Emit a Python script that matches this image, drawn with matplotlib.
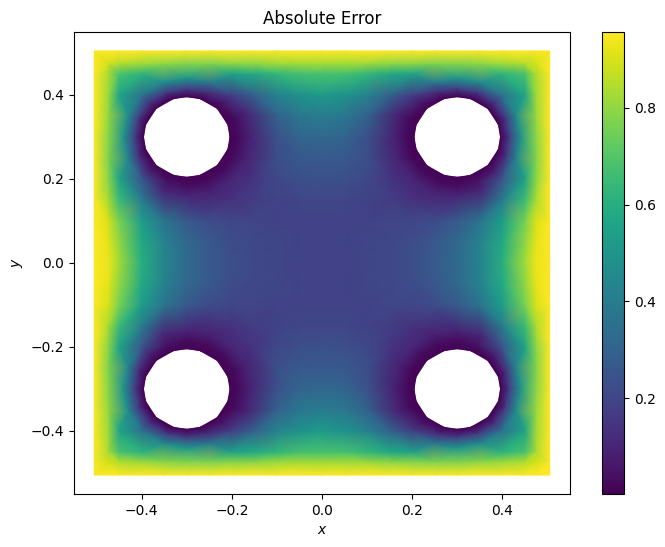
import numpy as np
import matplotlib
matplotlib.use("Agg")
import matplotlib.pyplot as plt
import matplotlib.tri as mtri

x_levels = [0, .05, .1, .15, .2, .25, .3, .35, .4, .45, .475, .505]
y_levels = [0, .05, .1, .15, .2, .25, .3, .35, .4, .45, .475, .505]
n = np.nan
error_rows = [
    [.19, .19, .20, .21, .23, .27, .33, .43, .60, .82, .93, .955],
    [.19, .19, .20, .21, .22, .26, .32, .42, .58, .80, .92, .955],
    [.19, .19, .19, .20, .20, .22, .27, .37, .53, .76, .90, .955],
    [.20, .20, .19, .17, .14, n, n, n, .40, .65, .84, .955],
    [.24, .23, .21, .15, n, n, n, n, n, .56, .79, .955],
    [.27, .26, .23, n, n, n, n, n, n, n, .78, .955],
    [.32, .31, .24, n, n, n, n, n, n, n, .79, .955],
    [.40, .38, .30, n, n, n, n, n, n, n, .81, .955],
    [.52, .49, .42, .30, n, n, n, n, n, .56, .82, .955],
    [.68, .67, .63, .58, .55, n, n, n, .62, .68, .84, .955],
    [.83, .83, .82, .80, .79, .78, .78, .80, .82, .85, .89, .955],
    [.955, .955, .955, .955, .955, .955, .955, .955, .955, .955, .955, .955],
]
hole_center = 0.3
edge_radius = 0.096
edge_value = 0.01
edge_count = 40
ring_radii = [0.115, 0.14]
ring_inner = [.17, .16, .14, .16, .17, .12, .06, .03, .03, .03, .03, .03, .03, .05, .08, .13]
ring_outer = [.48, .46, .36, .46, .50, .38, .17, .09, .09, .09, .10, .09, .10, .11, .25, .42]
title = "Absolute Error"
color_range = (0.002, 0.957)
cbar_ticks = [0.2, 0.4, 0.6, 0.8]

xq, yq = np.meshgrid(x_levels, y_levels)
eq = np.array(error_rows)
keep = ~np.isnan(eq)
xq, yq, eq = xq[keep], yq[keep], eq[keep]
ang = np.linspace(0, 2 * np.pi, 16, endpoint=False)
for r, vals in zip(ring_radii, (ring_inner, ring_outer)):
    xq = np.r_[xq, hole_center + r * np.cos(ang)]
    yq = np.r_[yq, hole_center + r * np.sin(ang)]
    eq = np.r_[eq, vals]
ang_e = np.linspace(0, 2 * np.pi, edge_count, endpoint=False)
xq = np.r_[xq, hole_center + edge_radius * np.cos(ang_e)]
yq = np.r_[yq, hole_center + edge_radius * np.sin(ang_e)]
eq = np.r_[eq, np.full(edge_count, edge_value)]

pts = {}
for sx in (1, -1):
    for sy in (1, -1):
        for a, b, c in zip(sx * xq, sy * yq, eq):
            pts[(round(float(a), 6) + 0.0, round(float(b), 6) + 0.0)] = c
xy = np.array(list(pts.keys()))
err = np.array(list(pts.values()))

tri = mtri.Triangulation(xy[:, 0], xy[:, 1])
cx = np.abs(xy[tri.triangles, 0].mean(axis=1))
cy = np.abs(xy[tri.triangles, 1].mean(axis=1))
tri.set_mask(np.hypot(cx - hole_center, cy - hole_center) < edge_radius * 0.98)

fig = plt.figure(figsize=(6.65, 5.47), dpi=100)
W, H = 665, 547
ax = fig.add_axes([74 / W, 1 - 494 / H, (570 - 74) / W, (494 - 32) / H])
cax = fig.add_axes([602 / W, 1 - 494 / H, (624 - 602) / W, (494 - 32) / H])
mesh = ax.tripcolor(tri, err, shading="gouraud", cmap="viridis",
                    vmin=color_range[0], vmax=color_range[1])
ax.set_xlim(-0.55, 0.55)
ax.set_ylim(-0.55, 0.55)
ax.set_title(title)
ax.set_xlabel("$x$")
ax.set_ylabel("$y$")
cb = fig.colorbar(mesh, cax=cax)
cb.set_ticks(cbar_ticks)
fig.savefig("out.png", dpi=100)
